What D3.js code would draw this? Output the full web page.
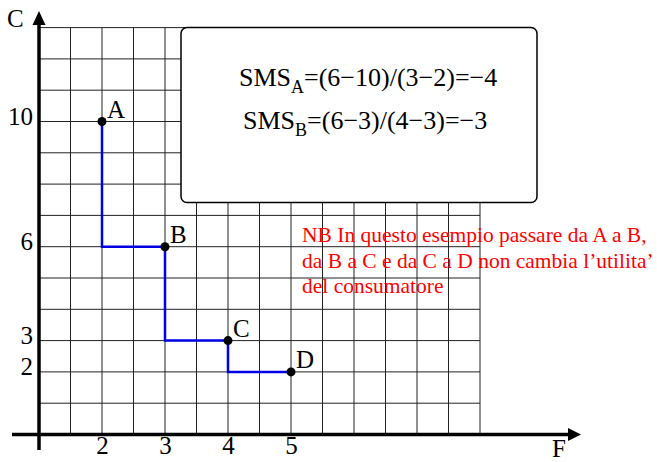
<!DOCTYPE html>
<html>
<head>
<meta charset="utf-8">
<script src="https://cdn.jsdelivr.net/npm/d3@7"></script>
<style>
  body { margin: 0; background: #fff; }
  svg { display: block; }
  .grid line { stroke: #222; stroke-width: 1; }
</style>
</head>
<body>
<div class="container"></div>
<script>
// data
const pointNames = ['A', 'B', 'C', 'D'];
const valuesF = [2, 3, 4, 5];
const valuesC = [10, 6, 3, 2];
const xTicks = [2, 3, 4, 5];
const yTicks = [2, 3, 6, 10];
const smsLines = [
  { sub: 'A', rest: '=(6\u221210)/(3\u22122)=\u22124' },
  { sub: 'B', rest: '=(6\u22123)/(4\u22123)=\u22123' }
];
const noteLines = [
  'NB In questo esempio passare da A a B,',
  'da B a C e da C a D non cambia l\u2019utilita\u2019',
  'del consumatore'
];

const WIDTH = 657;
const HEIGHT = 462;
const SERIF = '"Liberation Serif", "Times New Roman", serif';

let xScale = d3.scaleLinear().domain([1, 8]).range([39, 480]);
let yScale = d3.scaleLinear().domain([0, 13]).range([434.5, 27.6]);

let svg = d3.select('.container').append('svg')
    .attr('width', WIDTH)
    .attr('height', HEIGHT);

// grid
let grid = svg.append('g').attr('class', 'grid');
grid.selectAll('line.v')
    .data(d3.range(1.5, 8.01, 0.5))
    .enter().append('line')
    .attr('x1', d => xScale(d)).attr('x2', d => xScale(d))
    .attr('y1', yScale(0)).attr('y2', yScale(13));
grid.selectAll('line.h')
    .data(d3.range(1, 14))
    .enter().append('line')
    .attr('x1', xScale(1)).attr('x2', xScale(8))
    .attr('y1', d => yScale(d)).attr('y2', d => yScale(d));

// axes (labels only, via d3 axes)
let yAxis = d3.axisLeft(yScale).tickValues(yTicks).tickSize(0).tickPadding(6).tickFormat(d3.format('d'));
let xAxis = d3.axisBottom(xScale).tickValues(xTicks).tickSize(0).tickPadding(2).tickFormat(d3.format('d'));

svg.append('g')
    .attr('transform', `translate(${xScale(1)},0)`)
    .call(yAxis)
    .call(g => g.select('.domain').remove())
    .call(g => g.selectAll('text').attr('dy', '0.1em').attr('fill', '#000')
        .style('font-family', SERIF).style('font-size', '25px'));

svg.append('g')
    .attr('transform', `translate(0,${yScale(0)})`)
    .call(xAxis)
    .call(g => g.select('.domain').remove())
    .call(g => g.selectAll('text').attr('fill', '#000')
        .style('font-family', SERIF).style('font-size', '25px'));

// axis lines with arrows
svg.append('line')
    .attr('x1', 12).attr('x2', 570)
    .attr('y1', yScale(0)).attr('y2', yScale(0))
    .attr('stroke', '#000').attr('stroke-width', 3.5);
svg.append('path')
    .attr('d', `M568,${yScale(0) - 6.5}L581,${yScale(0)}L568,${yScale(0) + 6.5}Z`)
    .attr('fill', '#000');
svg.append('line')
    .attr('x1', xScale(1)).attr('x2', xScale(1))
    .attr('y1', 450).attr('y2', 22)
    .attr('stroke', '#000').attr('stroke-width', 3.5);
svg.append('path')
    .attr('d', `M${xScale(1) - 6.5},25L${xScale(1)},11L${xScale(1) + 6.5},25Z`)
    .attr('fill', '#000');

svg.append('text').attr('x', 7).attr('y', 27)
    .style('font-family', SERIF).style('font-size', '25px').text('C');
svg.append('text').attr('x', 552).attr('y', 457)
    .style('font-family', SERIF).style('font-size', '25px').text('F');

// text box
svg.append('rect')
    .attr('x', 181).attr('y', 27.5)
    .attr('width', 356).attr('height', 175)
    .attr('rx', 6)
    .attr('fill', '#fff').attr('stroke', '#000').attr('stroke-width', 1.5);

let sms = svg.append('g');
smsLines.forEach((l, i) => {
  let t = sms.append('text')
      .attr('x', i === 0 ? 239 : 243)
      .attr('y', 86 + i * 43)
      .style('font-family', SERIF)
      .style('font-size', '26px');
  t.append('tspan').text('SMS');
  t.append('tspan').attr('dy', 7).style('font-size', '18px').text(l.sub);
  t.append('tspan').attr('dy', -7).style('font-size', '26px').text(l.rest);
});

// step line
let pts = valuesF.map((f, i) => ({ f: f, c: valuesC[i], name: pointNames[i] }));
let step = d3.line()
    .x(d => xScale(d.f))
    .y(d => yScale(d.c))
    .curve(d3.curveStepBefore);
svg.append('path')
    .attr('d', step(pts))
    .attr('fill', 'none')
    .attr('stroke', '#0000e6')
    .attr('stroke-width', 2.5);

svg.append('g').selectAll('circle')
    .data(pts)
    .enter().append('circle')
    .attr('r', 4.5)
    .attr('cx', d => xScale(d.f))
    .attr('cy', d => yScale(d.c))
    .attr('fill', '#000');

svg.append('g').selectAll('text')
    .data(pts)
    .enter().append('text')
    .attr('x', d => xScale(d.f) + 5)
    .attr('y', d => yScale(d.c) - 4)
    .style('font-family', SERIF)
    .style('font-size', '25px')
    .text(d => d.name);

// red note
svg.append('g').selectAll('text')
    .data(noteLines)
    .enter().append('text')
    .attr('x', 302)
    .attr('y', (d, i) => 242 + i * 25.5)
    .attr('fill', '#ff0000')
    .style('font-family', SERIF)
    .style('font-size', '21.5px')
    .text(d => d);
</script>
</body>
</html>
